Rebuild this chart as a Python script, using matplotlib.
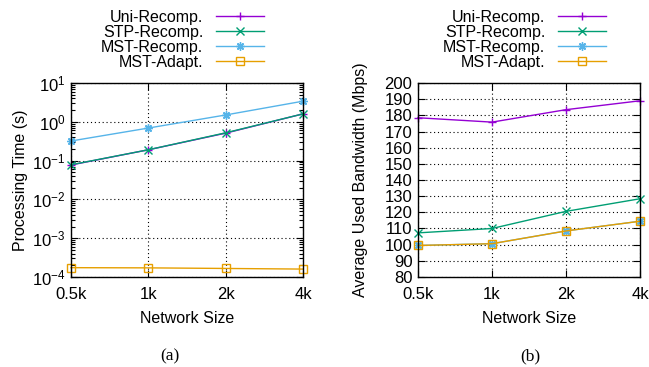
import matplotlib
matplotlib.use("Agg")
import matplotlib.pyplot as plt
from matplotlib.ticker import LogLocator, FixedLocator, NullFormatter

plt.rcParams['font.family'] = ['Liberation Sans', 'DejaVu Sans']
plt.rcParams['mathtext.fontset'] = 'custom'
plt.rcParams['mathtext.rm'] = 'Liberation Sans'
plt.rcParams['mathtext.default'] = 'regular'

sizes = ["0.5k", "1k", "2k", "4k"]
series = ["Uni-Recomp.", "STP-Recomp.", "MST-Recomp.", "MST-Adapt."]
colors = ["#9400d3", "#009e73", "#56b4e9", "#e69f00"]
markers = ["+", "x", (8, 2, 0), "s"]

time_uni = [0.077, 0.19, 0.51, 1.6]
time_stp = [0.078, 0.19, 0.52, 1.6]
time_mst = [0.32, 0.69, 1.5, 3.4]
time_adapt = [1.74e-4, 1.72e-4, 1.66e-4, 1.6e-4]

bw_uni = [178.5, 175.8, 183.5, 189.0]
bw_stp = [107.3, 110.0, 120.6, 128.4]
bw_mst = [99.5, 100.6, 108.5, 114.5]
bw_adapt = [99.5, 100.6, 108.5, 114.5]

W, H = 649, 367
fig = plt.figure(figsize=(W / 100, H / 100), dpi=100)

def px(x0, y0, x1, y1):
    return [x0 / W, 1 - y1 / H, (x1 - x0) / W, (y1 - y0) / H]

ax1 = fig.add_axes(px(71, 83, 303, 277))
ax2 = fig.add_axes(px(418, 83, 640, 277))

fs = 11.5
tfs = 12
xs = list(range(len(sizes)))

def draw(ax, data):
    for vals, lab, c, m in zip(data, series, colors, markers):
        kw = dict(color=c, lw=1.0, marker=m, markersize=6, label=lab,
                  markeredgewidth=1.0, clip_on=False)
        if m == "s":
            kw.update(markerfacecolor="none", markersize=6)
        ax.plot(xs, vals, **kw)
    ax.set_xlim(0, 3)
    ax.set_xticks(xs)
    ax.set_xticklabels(sizes)
    ax.tick_params(which='both', direction='in', top=True, right=True,
                   labelsize=tfs, width=0.8)
    ax.tick_params(which='major', length=5, pad=4)
    ax.tick_params(axis='x', which='major', pad=7)
    ax.tick_params(which='minor', length=3)
    ax.grid(True, which='major', color='black', linestyle=(0, (1, 2.5)), lw=0.8)
    for s in ax.spines.values():
        s.set_linewidth(1.0)
    ax.set_xlabel("Network Size", fontsize=fs, labelpad=7)

draw(ax1, [time_uni, time_stp, time_mst, time_adapt])
ax1.set_yscale('log')
ax1.set_ylim(1e-4, 1e1)
ax1.yaxis.set_major_locator(LogLocator(base=10, numticks=10))
ax1.yaxis.set_minor_locator(LogLocator(base=10, subs=range(2, 10), numticks=20))
ax1.yaxis.set_minor_formatter(NullFormatter())
ax1.set_ylabel("Processing Time (s)", fontsize=fs, labelpad=3)

draw(ax2, [bw_uni, bw_stp, bw_mst, bw_adapt])
ax2.set_ylim(80, 200)
ax2.yaxis.set_major_locator(FixedLocator(range(80, 201, 10)))
ax2.set_ylabel("Average Used Bandwidth (Mbps)", fontsize=fs, labelpad=12)

for ax, xr in [(ax1, 264), (ax2, 606)]:
    ax.legend(loc='upper right', bbox_to_anchor=(xr / W, 1 - 10 / H),
              bbox_transform=fig.transFigure, frameon=False, markerfirst=False,
              fontsize=fs, handlelength=3.0, handletextpad=0.8,
              labelspacing=0.0, borderpad=0, borderaxespad=0)

fig.text(170 / W, 1 - 356 / H, "(a)", ha='center', va='center',
         fontsize=12.5, family=['Liberation Serif', 'DejaVu Serif'])
fig.text(530 / W, 1 - 356 / H, "(b)", ha='center', va='center',
         fontsize=12.5, family=['Liberation Serif', 'DejaVu Serif'])

fig.savefig("out.png", dpi=100)
